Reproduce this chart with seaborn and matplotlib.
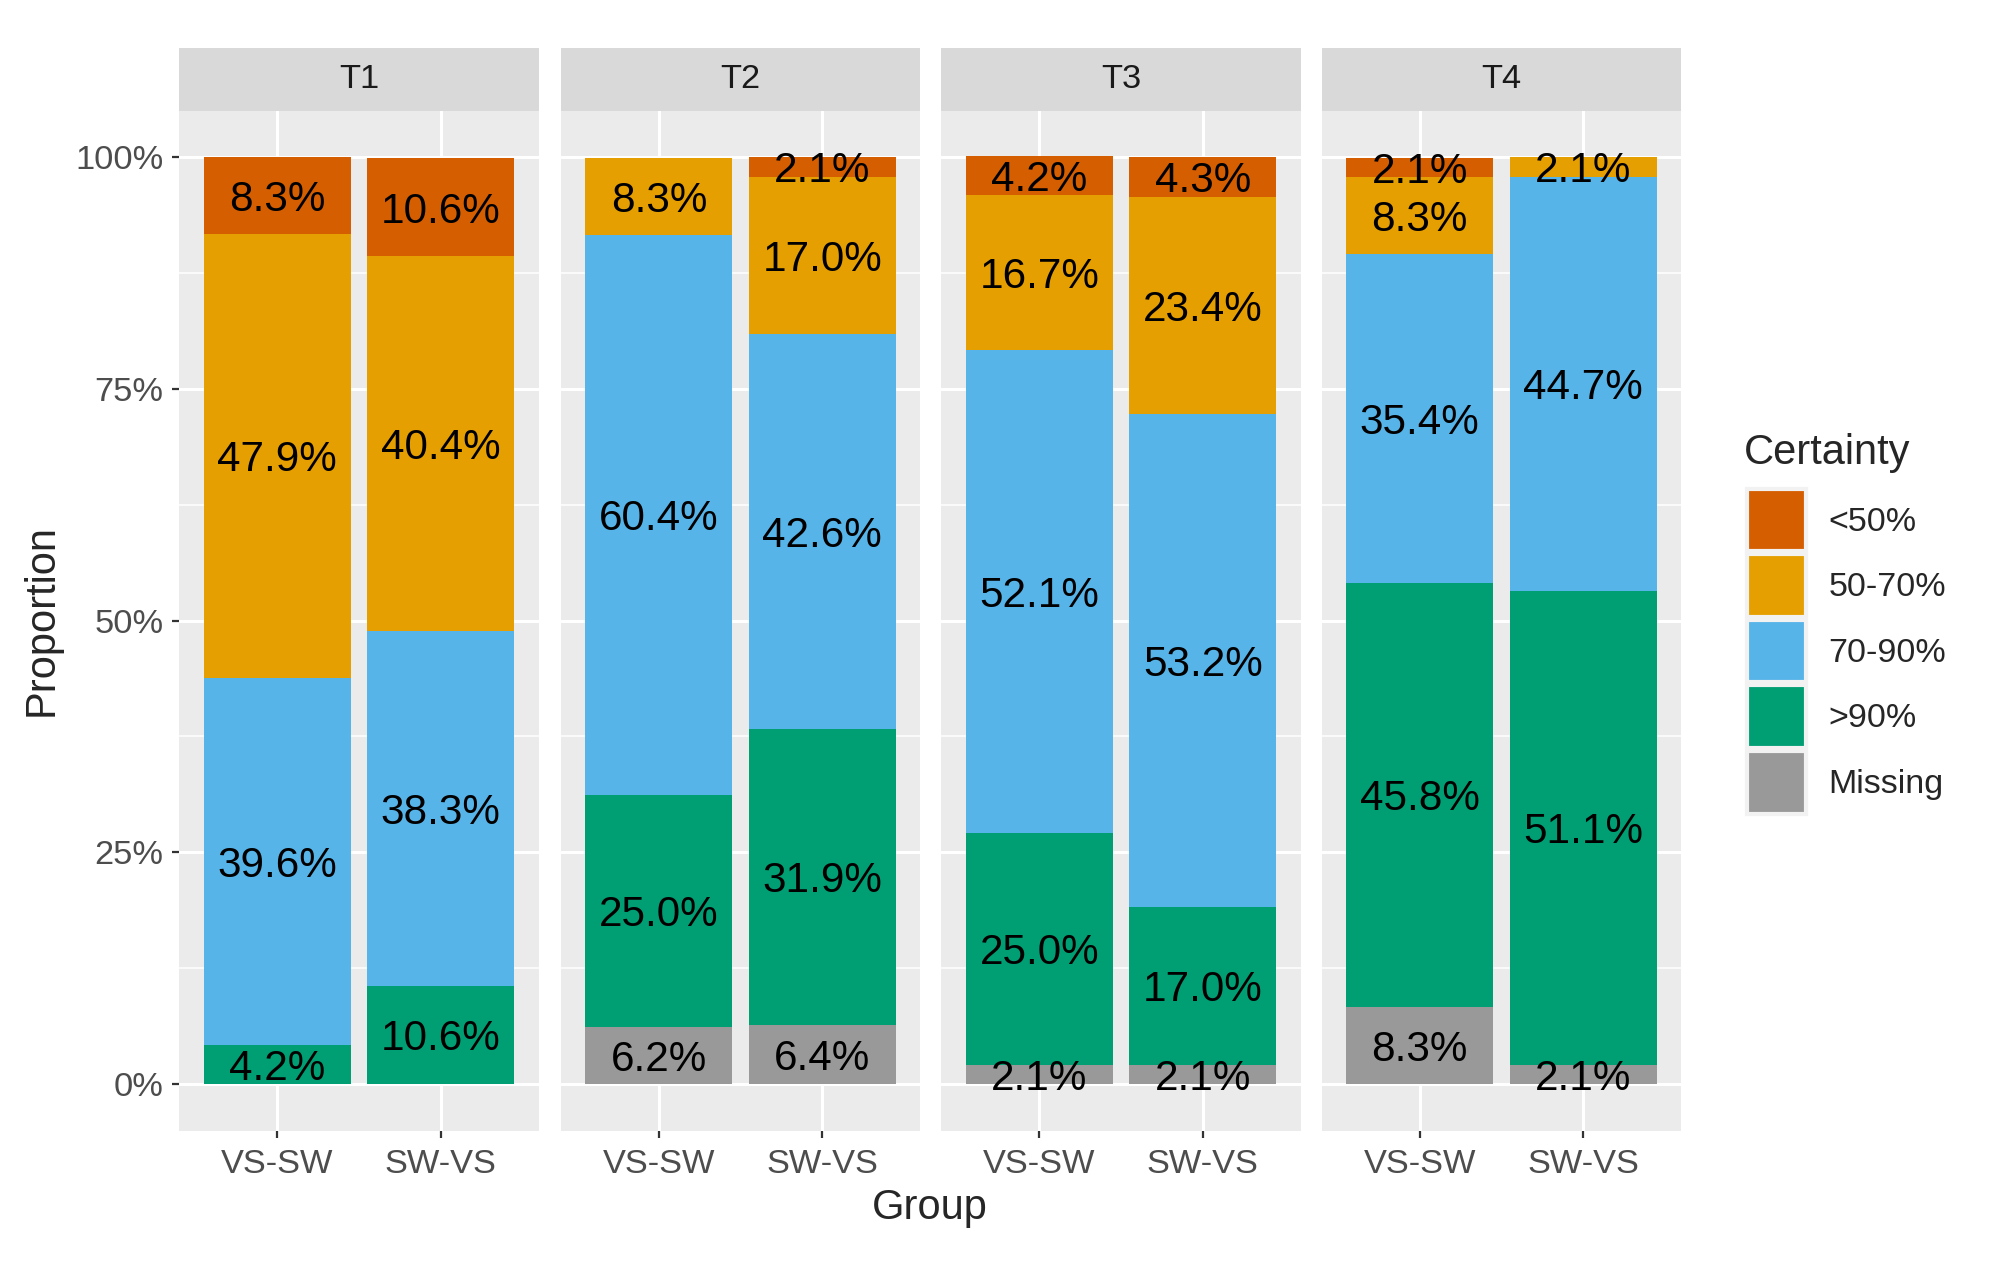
import numpy as np
import pandas as pd
import matplotlib
matplotlib.use("Agg")
import matplotlib.pyplot as plt
import seaborn as sns
from matplotlib.patches import Patch, Rectangle
from matplotlib.ticker import MultipleLocator, FuncFormatter

# datos (porcentajes por segmento)
tiempos = ["T1", "T2", "T3", "T4"]
grupos = ["VS-SW", "SW-VS"]
categorias = ["<50%", "50-70%", "70-90%", ">90%", "Missing"]  # arriba -> abajo
colores = ["#D55E00", "#E69F00", "#56B4E9", "#009E73", "#999999"]

# orden de cada lista: T1 VS-SW, T1 SW-VS, T2 VS-SW, T2 SW-VS, ...
menos50 = [8.3, 10.6, 0.0, 2.1, 4.2, 4.3, 2.1, 0.0]
de50a70 = [47.9, 40.4, 8.3, 17.0, 16.7, 23.4, 8.3, 2.1]
de70a90 = [39.6, 38.3, 60.4, 42.6, 52.1, 53.2, 35.4, 44.7]
mas90 = [4.2, 10.6, 25.0, 31.9, 25.0, 17.0, 45.8, 51.1]
missing = [0.0, 0.0, 6.2, 6.4, 2.1, 2.1, 8.3, 2.1]

filas = []
series = [menos50, de50a70, de70a90, mas90, missing]
for i, t in enumerate(tiempos):
    for j, g in enumerate(grupos):
        k = i * 2 + j
        for c, vals in zip(categorias, series):
            filas.append({"time": t, "group": g, "cat": c, "pct": vals[k] / 100})
df = pd.DataFrame(filas)
df["cat"] = pd.Categorical(df["cat"], categories=categorias[::-1], ordered=True)
df = df.sort_values(["time", "group", "cat"])
df["top"] = df.groupby(["time", "group"])["pct"].cumsum()
df["mid"] = df["top"] - df["pct"] / 2

sns.set_theme(style="darkgrid", rc={"axes.facecolor": "#EBEBEB", "grid.color": "white"})
plt.rcParams["font.family"] = ["Liberation Sans", "DejaVu Sans"]

W, H = 2008, 1263
fig = plt.figure(figsize=(W / 200, H / 200), dpi=200)
fig.patch.set_facecolor("white")

lefts = [179.3, 560.9, 941.3, 1321.6]
pw = 359.5
ptop, pbot = 110.7, 1130.5
strip_top = 48.3

for i, t in enumerate(tiempos):
    ax = fig.add_axes([lefts[i] / W, 1 - pbot / H, pw / W, (pbot - ptop) / H])
    sub = df[df["time"] == t]
    # barras acumuladas: se dibuja de la categoria de arriba hacia abajo
    for c, col in zip(categorias, colores):
        capa = sub[sub["cat"] == c]
        sns.barplot(data=capa, x="group", y="top", order=grupos, color=col,
                    width=0.9, linewidth=0, saturation=1, ax=ax, zorder=2)
    for _, r in sub.iterrows():
        if r["pct"] <= 0:
            continue
        ax.annotate(f"{r['pct'] * 100:.1f}%", (grupos.index(r["group"]), r["mid"]),
                    xytext=(0, -1.6), textcoords="offset points",
                    ha="center", va="center", fontsize=15.2, color="black", zorder=5)
    ax.set_xlim(-0.6, 1.6)
    ax.set_ylim(-0.05, 1.05)
    ax.set_xlabel("")
    ax.set_ylabel("")
    ax.yaxis.set_major_locator(MultipleLocator(0.25))
    ax.yaxis.set_minor_locator(MultipleLocator(0.125))
    ax.yaxis.set_major_formatter(FuncFormatter(lambda v, p: f"{v * 100:.0f}%"))
    ax.grid(which="major", color="white", lw=1.1, zorder=0)
    ax.grid(which="minor", axis="y", color="white", lw=0.55, zorder=0)
    ax.set_axisbelow(True)
    for s in ax.spines.values():
        s.set_visible(False)
    ax.tick_params(axis="x", which="major", length=2.6, width=0.8, color="#333333",
                   labelsize=12.4, labelcolor="#4D4D4D", pad=4, bottom=True)
    ax.tick_params(axis="y", which="minor", length=0)
    if i == 0:
        ax.tick_params(axis="y", which="major", length=2.6, width=0.8, color="#333333",
                       labelsize=12.4, labelcolor="#4D4D4D", pad=3, left=True)
    else:
        ax.tick_params(axis="y", which="major", length=0, labelleft=False)
    # franja del facet
    sh = (ptop - strip_top) / (pbot - ptop)
    ax.add_patch(Rectangle((0, 1), 1, sh, transform=ax.transAxes, facecolor="#D9D9D9",
                           edgecolor="none", clip_on=False))
    ax.text(0.5, 1 + sh / 2, t, transform=ax.transAxes, ha="center", va="center",
            fontsize=12.4, color="#1A1A1A")

fig.text(930 / W, 1 - 1208 / H, "Group", ha="center", va="center", fontsize=15)
fig.text(42 / W, 1 - 620 / H, "Proportion", ha="center", va="center",
         rotation=90, fontsize=15)

# leyenda (titulo aparte para controlar el espacio)
fig.text(1744 / W, 1 - 453 / H, "Certainty", ha="left", va="center", fontsize=15)
handles = [Patch(facecolor=c, edgecolor="#F2F2F2", linewidth=1.5) for c in colores]
leg = fig.legend(handles, categorias, loc="upper left",
                 bbox_to_anchor=(1733 / W, 1 - 475 / H), frameon=False,
                 fontsize=12.3, handlelength=1.75, handleheight=2.45,
                 handletextpad=0.65, labelspacing=0.08, borderaxespad=0)

fig.savefig("out.png", dpi=200, facecolor="white")
